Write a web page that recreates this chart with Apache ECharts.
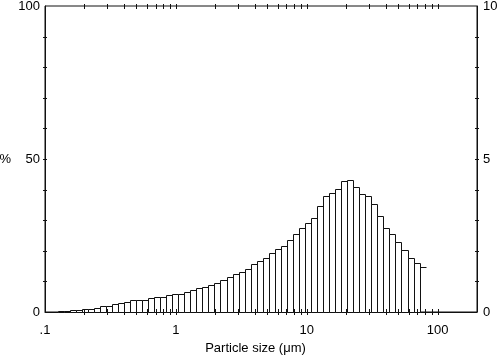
<!DOCTYPE html>
<html><head><meta charset="utf-8">
<script src="https://cdn.jsdelivr.net/npm/echarts@6/dist/echarts.min.js"></script>
<style>html,body{margin:0;padding:0;background:#fff}#c{width:498px;height:360px}</style>
</head><body><div id="c"></div>
<script>
// Bin edges (particle size, µm) of the histogram channels
const binEdges = [0.1248,0.1388,0.1543,0.1716,0.1908,0.2122,0.2359,0.2623,0.2917,0.3244,
  0.3607,0.4011,0.4460,0.4960,0.5515,0.6133,0.6820,0.7584,0.8433,0.9378,
  1.043,1.160,1.289,1.434,1.594,1.773,1.972,2.193,2.438,2.711,
  3.015,3.353,3.728,4.146,4.610,5.126,5.700,6.339,7.047,7.837,
  8.714,9.690,10.78,11.98,13.33,14.82,16.48,18.32,20.37,22.65,
  25.19,28.01,31.15,34.64,38.52,42.83,47.63,52.97,58.88,65.49,
  72.82,80.98];
// Volume % in each channel (right axis, 0-10); last one is the open tail
const binValues = [0.02,0.045,0.05,0.055,0.09,0.09,0.14,0.20,0.20,0.25,
  0.28,0.34,0.38,0.39,0.39,0.45,0.50,0.50,0.55,0.60,
  0.60,0.64,0.72,0.78,0.82,0.87,0.94,1.04,1.16,1.24,
  1.30,1.42,1.57,1.68,1.75,1.93,2.06,2.15,2.34,2.56,
  2.76,2.91,3.07,3.48,3.80,3.89,4.02,4.29,4.33,4.08,
  3.84,3.78,3.53,3.14,2.76,2.56,2.29,2.03,1.75,1.60,
  1.48];
const xLabelValues = [0.1, 1, 10, 100];
const xLabelTexts = ['.1', '1', '10', '100'];
const xTickValues = [0.2,0.3,0.4,0.5,0.6,0.7,0.8,0.9,1,2,3,4,5,6,7,8,9,10,20,30,40,50,60,70,80,90,100];
const yTickValues = [10,20,30,40,50,60,70,80,90];
const xMin = 0.1, xMax = 200;
const INK = '#111';

const chart = echarts.init(document.getElementById('c'), null, {renderer: 'canvas'});
const font = {fontFamily: 'Liberation Sans, Arial, sans-serif', fontSize: 13, color: '#000'};
const barData = binValues.map((v, i) => [binEdges[i], binEdges[i + 1], v, i === binValues.length - 1 ? 1 : 0]);

chart.setOption({
  animation: false,
  backgroundColor: '#fff',
  grid: {left: 45, right: 21, top: 6, bottom: 48, show: true, borderColor: INK, borderWidth: 1,
    containLabel: false, outerBoundsMode: 'none'},
  xAxis: [{
    type: 'log', logBase: 10, min: xMin, max: xMax,
    axisLine: {show: true, lineStyle: {color: INK, width: 1}},
    axisTick: {show: false}, splitLine: {show: false}, minorTick: {show: false},
    axisLabel: Object.assign({margin: 12, showMaxLabel: false, formatter: function (v) {
      for (let i = 0; i < xLabelValues.length; i++) {
        if (Math.abs(Math.log10(v) - Math.log10(xLabelValues[i])) < 1e-6) return xLabelTexts[i];
      }
      return '';
    }}, font),
    name: 'Particle size (μm)', nameLocation: 'middle', nameGap: 30,
    nameTextStyle: Object.assign({padding: [0, 11, 0, 0]}, font)
  }],
  yAxis: [{
    type: 'value', min: 0, max: 100, interval: 10, position: 'left',
    axisLine: {show: true, lineStyle: {color: INK, width: 1}},
    axisTick: {show: false}, splitLine: {show: false},
    axisLabel: Object.assign({margin: 5, formatter: v => (v % 50 === 0 ? String(v) : '')}, font),
    name: '%', nameLocation: 'middle', nameGap: 34, nameRotate: 0, nameTextStyle: font
  }, {
    type: 'value', min: 0, max: 10, interval: 1, position: 'right',
    axisLine: {show: true, lineStyle: {color: INK, width: 1}},
    axisTick: {show: false}, splitLine: {show: false},
    axisLabel: Object.assign({margin: 6, formatter: v => (v % 5 === 0 ? String(v) : '')}, font)
  }],
  series: [{
    type: 'custom', xAxisIndex: 0, yAxisIndex: 1, clip: false,
    dimensions: ['x0', 'x1', 'v', 'tail'],
    encode: {x: [0, 1], y: 2},
    data: barData,
    renderItem: function (params, api) {
      const p0 = api.coord([api.value(0), 0]);
      const p1 = api.coord([api.value(1), api.value(2)]);
      const xa = Math.round(p0[0]) + 0.5, xb = Math.round(p1[0]) + 0.5;
      const yb = Math.round(p0[1]) + 0.5, yt = Math.round(p1[1]) + 0.5;
      if (api.value(3) === 1) {
        return {type: 'line', shape: {x1: xa, y1: yt, x2: xb, y2: yt}, style: {stroke: INK, lineWidth: 1}};
      }
      return {type: 'rect', shape: {x: xa, y: yt, width: xb - xa, height: yb - yt},
        style: {fill: '#fff', stroke: INK, lineWidth: 1}};
    }
  }, {
    type: 'custom', xAxisIndex: 0, yAxisIndex: 0, clip: false,
    data: xTickValues.map(v => [v, 0]),
    renderItem: function (params, api) {
      const pb = api.coord([api.value(0), 0]);
      const pt = api.coord([api.value(0), 100]);
      const x = Math.round(pb[0]) + 0.5;
      return {type: 'group', children: [
        {type: 'line', shape: {x1: x, y1: pb[1] - 3, x2: x, y2: pb[1] + 3}, style: {stroke: INK, lineWidth: 1}},
        {type: 'line', shape: {x1: x, y1: pt[1] - 2, x2: x, y2: pt[1] + 3}, style: {stroke: INK, lineWidth: 1}}
      ]};
    }
  }, {
    type: 'custom', xAxisIndex: 0, yAxisIndex: 0, clip: false,
    data: yTickValues.map(v => [1, v]),
    renderItem: function (params, api) {
      const pl = api.coord([xMin, api.value(1)]);
      const pr = api.coord([xMax, api.value(1)]);
      const y = Math.round(pl[1]) + 0.5;
      return {type: 'group', children: [
        {type: 'line', shape: {x1: pl[0] - 2, y1: y, x2: pl[0] + 2, y2: y}, style: {stroke: INK, lineWidth: 1}},
        {type: 'line', shape: {x1: pr[0] - 2, y1: y, x2: pr[0] + 2, y2: y}, style: {stroke: INK, lineWidth: 1}}
      ]};
    }
  }]
});
</script>
</body></html>
